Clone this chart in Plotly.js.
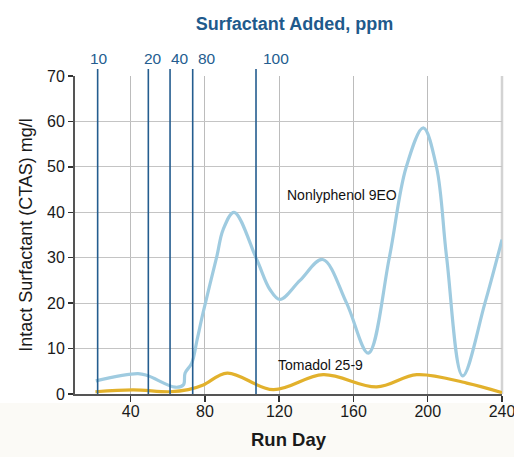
<!DOCTYPE html>
<html><head><meta charset="utf-8">
<script src="https://cdn.plot.ly/plotly-3.0.1.min.js"></script>
<style>html,body{margin:0;padding:0;background:#fff}</style>
</head><body><div id="chart" style="width:514px;height:457px"></div>
<script>
// Data
const nonylDay = [21.2, 43.9, 49.3, 63.9, 68.4, 69.3, 72.9, 75.8, 79.0, 86.4, 89.8, 95.7, 107.9, 115.0, 120.4, 131.2, 143.4, 156.3, 168.0, 179.3, 188.3, 197.6, 204.8, 210.2, 218.8, 230.8, 240];
const nonylVal = [2.9, 4.5, 4.0, 1.5, 2.0, 4.6, 6.8, 12, 17.9, 30.3, 36.2, 40, 29.6, 23, 20.8, 25, 29.6, 20, 9.0, 30, 49.8, 58.6, 49.8, 30, 4.0, 20, 34];
const tomDay = [21.0, 41.3, 61.0, 71.0, 79.1, 92.0, 116.8, 143.7, 172.5, 194.1, 221.0, 240];
const tomVal = [0.5, 0.9, 0.5, 0.95, 2.0, 4.6, 0.95, 4.25, 1.55, 4.25, 2.4, 0.3];
const addDay = [22.2, 49.5, 61.2, 73.4, 107.5];
const addPpm = ['10', '20', '40', '80', '100'];
const xTicks = [40, 80, 120, 160, 200, 240];
const yTicks = [0, 10, 20, 30, 40, 50, 60, 70];

// Layout-only offsets for the ppm labels (pixels)
const labelShift = [1, 4.5, 10, 14, 20];

const FONT = 'Liberation Sans, Arial, sans-serif';
const BLUE = '#245d8f';

const traces = [
  {x: nonylDay, y: nonylVal, type: 'scatter', mode: 'lines', name: 'Nonlyphenol 9EO',
   line: {color: '#9fcbe0', width: 3.2, shape: 'spline', smoothing: 1.0}, hoverinfo: 'skip'},
  {x: tomDay, y: tomVal, type: 'scatter', mode: 'lines', name: 'Tomadol 25-9',
   line: {color: '#e2b12c', width: 3.2, shape: 'spline', smoothing: 1.0}, hoverinfo: 'skip'}
];

const shapes = [
  {type: 'rect', xref: 'paper', yref: 'paper', x0: -0.2, x1: 1.05, y0: -0.0283, y1: -0.2,
   fillcolor: '#fbfaf6', line: {width: 0}, layer: 'below'},
  {type: 'line', xref: 'paper', yref: 'paper', x0: 1, x1: 1, y0: 0, y1: 1,
   line: {color: '#d3d3d3', width: 2.5}, layer: 'below'}
];
addDay.forEach(d => shapes.push({type: 'line', xref: 'x', yref: 'paper', x0: d, x1: d, y0: 0, y1: 1.022,
  line: {color: BLUE, width: 1.6}, layer: 'above'}));

const annotations = [
  {text: 'Nonlyphenol 9EO', x: 153.7, y: 43.9, xref: 'x', yref: 'y', showarrow: false,
   font: {family: FONT, size: 14, color: '#111'}},
  {text: 'Tomadol 25-9', x: 142.5, y: 6.45, xref: 'x', yref: 'y', showarrow: false,
   font: {family: FONT, size: 14, color: '#111'}}
];
addPpm.forEach((t, i) => annotations.push({text: t, x: addDay[i], xref: 'x', y: 1.054, yref: 'paper',
  xshift: labelShift[i], showarrow: false, yanchor: 'middle', font: {family: FONT, size: 15.5, color: BLUE}}));

const layout = {
  width: 514, height: 457,
  margin: {l: 75, r: 12, t: 76, b: 63},
  paper_bgcolor: '#ffffff', plot_bgcolor: '#ffffff',
  showlegend: false,
  title: {text: '<b>Surfactant Added, ppm</b>', x: 0.573, xref: 'container', xanchor: 'center',
          y: 0.9475, yref: 'container', yanchor: 'middle',
          font: {family: FONT, size: 18, color: '#1f5a8c'}},
  xaxis: {range: [10, 240], tickvals: xTicks, ticktext: xTicks.map(String),
          showgrid: true, gridcolor: '#bcbcbc', gridwidth: 1,
          showline: true, linecolor: '#555', linewidth: 2,
          ticks: 'outside', ticklen: 6, tickcolor: '#333', tickwidth: 1.5,
          zeroline: false, ticklabeloverflow: 'allow', ticklabelstandoff: -4,
          tickfont: {family: FONT, size: 16, color: '#1a1a1a'},
          title: {text: '<b>Run Day</b>', font: {family: FONT, size: 18.5, color: '#1a1a1a'}, standoff: 14}},
  yaxis: {range: [0, 70], tickvals: yTicks, ticktext: yTicks.map(String),
          showgrid: true, gridcolor: '#c4c4c4', gridwidth: 1,
          showline: true, linecolor: '#555', linewidth: 2,
          ticks: 'outside', ticklen: 5, tickcolor: '#333', tickwidth: 1.5,
          zeroline: false,
          tickfont: {family: FONT, size: 16, color: '#1a1a1a'},
          title: {text: 'Intact Surfactant (CTAS) mg/l', font: {family: FONT, size: 18, color: '#1a1a1a'}, standoff: 10}},
  shapes: shapes,
  annotations: annotations
};

Plotly.newPlot('chart', traces, layout, {displayModeBar: false, staticPlot: true});
</script>
</body></html>
